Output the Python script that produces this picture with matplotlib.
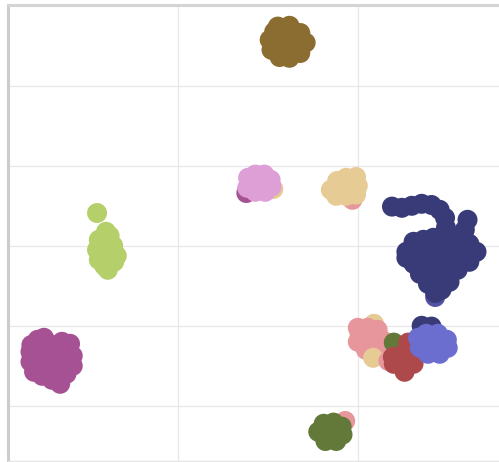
import matplotlib
matplotlib.use("Agg")
import matplotlib.pyplot as plt

# ---- data (embedding coordinates per class) ----
brown_x = [11.1, 12.4, 13.6, 14.2, 13.6, 12.4, 11.3, 10.4, 10.2, 10.7, 11.9, 13.0, 11.6, 12.4]
brown_y = [27.4, 27.5, 26.6, 25.4, 24.1, 23.5, 23.6, 24.5, 25.75, 26.75, 25.75, 25.1, 24.75, 26.25]

orchid_under_x = [7.6, 10.6, 9.3]
orchid_under_y = [6.6, 7.1, 8.75]
orchid_under_c = ['#a55194', '#e7cb94', '#8c6d31']
orchid_x = [7.8, 8.6, 9.6, 10.3, 10.4, 9.7, 8.6, 7.7, 8.9, 9.7]
orchid_y = [8.5, 8.9, 8.9, 8.25, 7.4, 6.75, 6.75, 7.25, 7.9, 7.75]

tan_under_x = [19.4]
tan_under_y = [5.75]
tan_x = [17.0, 17.7, 18.7, 19.8, 20.0, 19.8, 18.7, 17.6, 18.6, 19.1]
tan_y = [7.0, 8.1, 8.5, 8.6, 7.5, 6.4, 6.25, 6.25, 7.4, 7.6]

lgreen_x = [-9.0, -8.0, -8.8, -9.0, -8.8, -8.2, -7.8, -7.1, -6.8, -7.2, -7.6, -8.1, -7.8]
lgreen_y = [4.1, 1.75, 0.75, -0.5, -1.75, -2.5, -3.0, -2.0, -1.25, 0.0, 1.25, -0.25, -1.25]

purple_x = [-16.3, -15.6, -14.9, -14.0, -12.9, -12.0, -11.7, -11.7, -12.4, -13.1, -14.0,
            -15.1, -16.0, -16.4, -16.4, -14.8, -13.7, -12.9, -14.4, -13.3, -15.3]
purple_y = [-12.4, -11.75, -11.5, -12.4, -12.0, -12.25, -13.75, -15.0, -16.0, -17.25, -16.75,
            -16.25, -15.75, -14.5, -13.25, -13.6, -14.0, -14.25, -15.0, -15.5, -14.5]

dgreen_under_x = [18.6]
dgreen_under_y = [-21.9]
dgreen_x = [15.6, 16.2, 17.3, 18.2, 18.3, 17.6, 16.4, 16.9, 17.4]
dgreen_y = [-23.25, -22.25, -22.1, -22.6, -23.6, -24.4, -24.4, -23.25, -23.25]

navy_x = [23.8, 24.9, 26.0, 27.1, 28.2, 29.1, 29.7, 29.8, 32.2, 31.9,
          25.4, 26.2, 27.3, 28.4, 29.8, 31.1, 32.4, 33.2, 32.4, 31.1, 30.2,
          29.3, 28.6, 27.8, 26.9, 26.2, 25.4,
          27.4, 28.9, 30.4, 31.8, 28.0, 29.8, 28.9, 30.0, 26.7]
navy_y = [4.9, 4.75, 5.0, 5.25, 5.1, 4.5, 3.5, 2.25, 3.25, 2.0,
          -0.75, 0.5, 0.75, 1.0, 1.0, 0.5, 0.25, -0.75, -2.0, -3.0, -4.5,
          -5.5, -5.9, -4.75, -3.5, -2.25, -1.5,
          -0.5, -0.5, -0.75, -1.0, -2.4, -2.4, -4.0, 0.1, -1.0]
navy_tip_x = [28.6]
navy_tip_y = [-6.4]

tan2_back_x = [21.8]
tan2_back_y = [-9.75]
salmon_x = [20.0, 21.1, 22.2, 22.7, 22.0, 20.9, 20.0, 20.2, 21.3]
salmon_y = [-10.25, -10.25, -10.5, -11.75, -13.0, -13.0, -12.0, -11.1, -11.75]
tan2_front_x = [21.7]
tan2_front_y = [-14.0]

pink_small_x = [23.4]
pink_small_y = [-14.4]
dgreen2_x = [24.0]
dgreen2_y = [-12.1]
red_x = [25.6, 26.4, 26.2, 25.2, 24.0, 24.7, 23.9]
red_y = [-12.1, -13.25, -14.75, -15.75, -14.75, -13.75, -13.9]

navy2_x = [27.1, 28.2]
navy2_y = [-10.0, -10.1]
peri_x = [26.7, 27.6, 28.9, 29.9, 30.0, 29.1, 27.8, 26.9, 28.3]
peri_y = [-11.5, -11.0, -11.0, -11.75, -12.75, -13.5, -13.5, -12.75, -12.25]

# ---- figure ----
fig = plt.figure(figsize=(4.99, 4.62), dpi=100)
ax = fig.add_axes([8/499, 1/462, 491/499, 456/462])
ax.set_xlim(-18.9, 35.7)
ax.set_ylim(-26.9, 30.1)

S = 207
def sc(x, y, c):
    ax.scatter(x, y, s=S, c=c, edgecolors='none', zorder=3)

sc(brown_x, brown_y, '#8c6d31')
for x, y, c in zip(orchid_under_x, orchid_under_y, orchid_under_c):
    sc([x], [y], c)
sc(orchid_x, orchid_y, '#de9ed6')
sc(tan_under_x, tan_under_y, '#e7969c')
sc(tan_x, tan_y, '#e7cb94')
sc(lgreen_x, lgreen_y, '#b5cf6b')
sc(purple_x, purple_y, '#a55194')
sc(dgreen_under_x, dgreen_under_y, '#e7969c')
sc(dgreen_x, dgreen_y, '#637939')
sc(navy_tip_x, navy_tip_y, '#5254a3')
sc(navy_x, navy_y, '#393b79')
sc(tan2_back_x, tan2_back_y, '#e7cb94')
sc(salmon_x, salmon_y, '#e7969c')
sc(tan2_front_x, tan2_front_y, '#e7cb94')
sc(navy2_x, navy2_y, '#393b79')
sc(pink_small_x, pink_small_y, '#e7969c')
sc(dgreen2_x, dgreen2_y, '#637939')
sc(red_x, red_y, '#ad494a')
sc(peri_x, peri_y, '#6b6ecf')

ax.set_xticks([0, 20])
ax.set_yticks([-20, -10, 0, 10, 20])
ax.tick_params(length=0, labelbottom=False, labelleft=False)
ax.grid(True, color='#e8e8e8', linewidth=0.9, zorder=0)
ax.set_axisbelow(True)

ax.spines['right'].set_visible(False)
ax.spines['left'].set_color('#cccccc')
ax.spines['left'].set_linewidth(2.2)
ax.spines['top'].set_color('#d4d4d4')
ax.spines['top'].set_linewidth(2.2)
ax.spines['bottom'].set_color('#e4e4e4')
ax.spines['bottom'].set_linewidth(1.0)

fig.savefig('out.png', dpi=100)
